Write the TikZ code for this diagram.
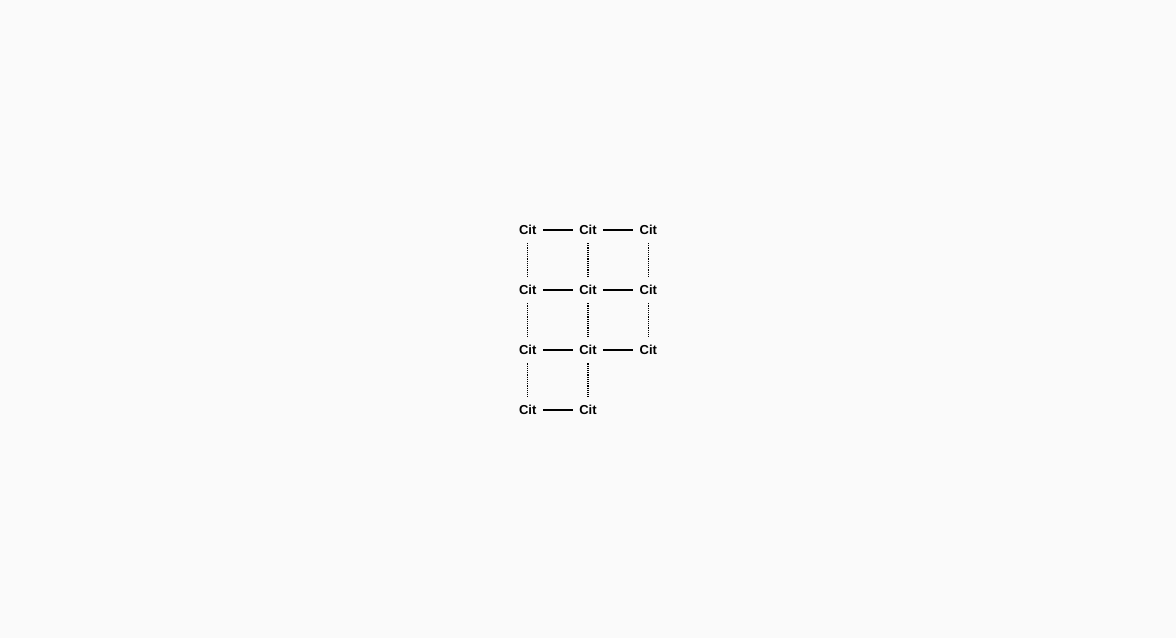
\documentclass[tikz,border=0pt]{standalone}
\usepackage{fontspec}
\setmainfont{Liberation Sans}
\usetikzlibrary{matrix}
\definecolor{pagebg}{RGB}{250,250,250}

\begin{document}
\begin{tikzpicture}[x=1pt, y=1pt,
    bond/.style={line width=1.6pt},
    hbond/.style={line width=1.6pt, dash pattern=on 1.2pt off 1pt}]
    \fill[pagebg] (-588,-319) rectangle (588,319);
    \useasboundingbox (-588,-319) rectangle (588,319);
    \matrix (grid) [matrix of nodes, nodes={font=\fontsize{13}{15}\selectfont\bfseries, inner xsep=6.5pt, inner ysep=8.3pt},
      column sep=30pt, row sep=34pt] at (0,-1)
      {
        Cit & Cit & Cit \\
        Cit & Cit & Cit \\
        Cit & Cit & Cit \\
        Cit & Cit & \\
      };
    \foreach \r in {1,2,3} {
      \draw[bond] (grid-\r-1) -- (grid-\r-2);
      \draw[bond] (grid-\r-2) -- (grid-\r-3);
    }
    \draw[bond] (grid-4-1) -- (grid-4-2);
    \foreach \c in {1,2,3}
      \foreach \r/\s in {1/2,2/3}
        \draw[hbond] (grid-\r-\c) -- (grid-\s-\c);
    \foreach \c in {1,2}
      \draw[hbond] (grid-3-\c) -- (grid-4-\c);
\end{tikzpicture}
\end{document}
